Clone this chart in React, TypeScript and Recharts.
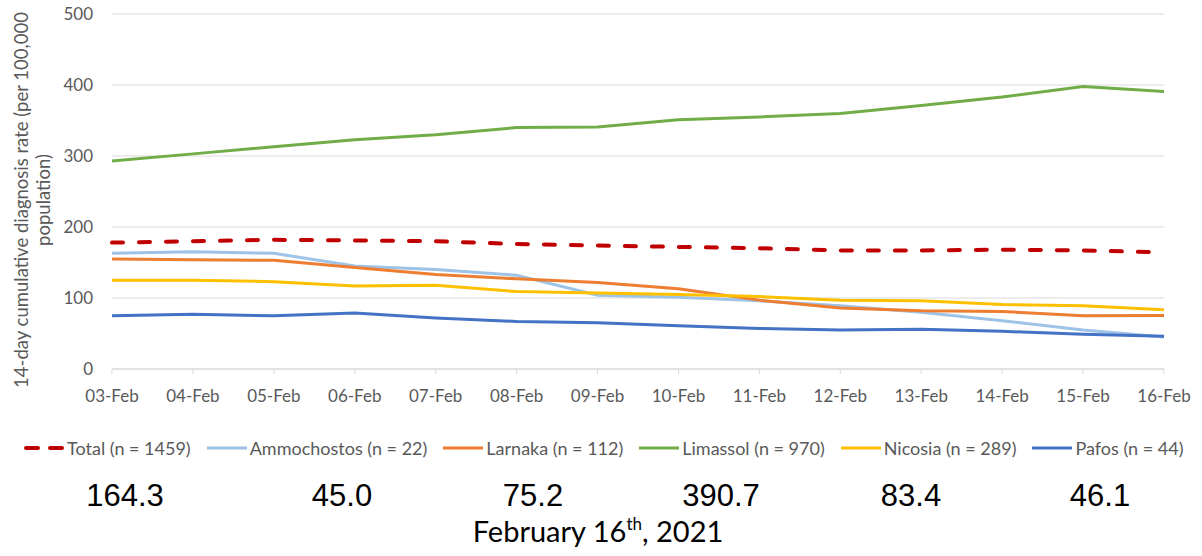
import React from "react";
import {
  CartesianGrid,
  Legend,
  Line,
  LineChart,
  XAxis,
  YAxis,
} from "recharts";

// values (14-day rate per 100,000)
const dates = [
  "03-Feb", "04-Feb", "05-Feb", "06-Feb", "07-Feb", "08-Feb", "09-Feb",
  "10-Feb", "11-Feb", "12-Feb", "13-Feb", "14-Feb", "15-Feb", "16-Feb",
];
const total = [178, 180, 182, 181, 180, 176, 174, 172, 170, 167, 167, 168, 167, 164.3];
const ammochostos = [163, 165, 163, 145, 140, 132, 104, 101, 96, 89, 80, 68, 55, 45.0];
const larnaka = [155, 154, 153, 143, 133, 127, 122, 113, 97, 86, 82, 81, 75, 75.2];
const limassol = [293, 303, 313, 323, 330, 340, 341, 351, 355, 360, 371, 383, 398, 390.7];
const nicosia = [125, 125, 123, 117, 118, 109, 107, 105, 102, 97, 96, 91, 89, 83.4];
const pafos = [75, 77, 75, 79, 72, 67, 65, 61, 57, 55, 56, 53, 49, 46.1];

const seriesKeys = ["total", "ammochostos", "larnaka", "limassol", "nicosia", "pafos"];
const seriesNames = [
  "Total (n = 1459)",
  "Ammochostos (n = 22)",
  "Larnaka (n = 112)",
  "Limassol (n = 970)",
  "Nicosia (n = 289)",
  "Pafos (n = 44)",
];
const seriesColors = ["#C00000", "#9DC3E6", "#ED7D31", "#70AD47", "#FFC000", "#4472C4"];
const yTicks = [0, 100, 200, 300, 400, 500];

// latest values printed under the chart
const summaryValues = ["164.3", "45.0", "75.2", "390.7", "83.4", "46.1"];
const summaryCenters = [125, 342, 533, 721, 911, 1100];

const seriesValues = [total, ammochostos, larnaka, limassol, nicosia, pafos];
const data = dates.map((date, i) => {
  const row: Record<string, string | number> = { date };
  seriesKeys.forEach((k, s) => {
    row[k] = seriesValues[s][i];
  });
  return row;
});

const CALIBRI = "Lato, 'Open Sans', sans-serif";
const GREY = "#595959";

const YLabel = () => (
  <g fill={GREY} fontFamily={CALIBRI} fontSize={18.5}>
    <text x={21} y={200} textAnchor="middle" dominantBaseline="central" transform="rotate(-90, 21, 200)">
      14-day cumulative diagnosis rate (per 100,000
    </text>
    <text x={43} y={200} textAnchor="middle" dominantBaseline="central" transform="rotate(-90, 43, 200)">
      population)
    </text>
  </g>
);

const LegendContent = () => (
  <div
    style={{
      height: 61,
      boxSizing: "border-box",
      paddingTop: 16,
      paddingLeft: 24,
      display: "flex",
      alignItems: "center",
      fontFamily: CALIBRI,
      fontSize: 18,
      color: GREY,
      lineHeight: "20px",
      whiteSpace: "nowrap",
    }}
  >
    {seriesNames.map((name, i) => (
      <div key={name} style={{ display: "flex", alignItems: "center", marginRight: 16 }}>
        <svg width={40} height={10} style={{ marginRight: 3 }}>
          {i === 0 ? (
            <line x1={2} y1={5} x2={39} y2={5} stroke={seriesColors[i]} strokeWidth={4}
              strokeDasharray="12 12" strokeLinecap="round" />
          ) : (
            <line x1={0} y1={5} x2={40} y2={5} stroke={seriesColors[i]} strokeWidth={3} />
          )}
        </svg>
        <span>{name}</span>
      </div>
    ))}
  </div>
);

export default function App() {
  return (
    <div style={{ position: "absolute", left: 0, top: 0, width: 1202, height: 556, background: "#fff" }}>
      <LineChart width={1202} height={470} data={data} margin={{ top: 14, right: 38, bottom: 0, left: 0 }}>
        <CartesianGrid vertical={false} stroke="#d9d9d9" strokeWidth={1} />
        <XAxis
          dataKey="date"
          height={40}
          interval={0}
          stroke="#d9d9d9"
          tickSize={5}
          tickMargin={16}
          tick={{ fill: GREY, fontSize: 17, fontFamily: CALIBRI }}
        />
        <YAxis
          width={112}
          domain={[0, 500]}
          ticks={yTicks}
          axisLine={false}
          tickLine={false}
          tickSize={0}
          tickMargin={19}
          tick={{ fill: GREY, fontSize: 17, fontFamily: CALIBRI }}
          label={{ content: <YLabel /> }}
        />
        <Legend verticalAlign="bottom" content={<LegendContent />} wrapperStyle={{ left: 0, width: 1202 }} />
        {seriesKeys.map((k, i) => (
          <Line
            key={k}
            dataKey={k}
            name={seriesNames[i]}
            stroke={seriesColors[i]}
            strokeWidth={i === 0 ? 4 : 3}
            strokeDasharray={i === 0 ? "11 16" : undefined}
            strokeLinecap={i === 0 ? "round" : "butt"}
            type="linear"
            dot={false}
            activeDot={false}
            isAnimationActive={false}
          />
        ))}
      </LineChart>
      {summaryValues.map((v, i) => (
        <div
          key={i}
          style={{
            position: "absolute",
            left: summaryCenters[i] - 60,
            width: 120,
            top: 478,
            textAlign: "center",
            fontFamily: "'Liberation Sans', Arial, sans-serif",
            fontSize: 31,
            lineHeight: "36px",
            color: "#000",
          }}
        >
          {v}
        </div>
      ))}
      <div
        style={{
          position: "absolute",
          left: 0,
          width: 1196,
          top: 514,
          textAlign: "center",
          fontFamily: CALIBRI,
          fontSize: 29,
          lineHeight: "34px",
          color: "#000",
        }}
      >
        February 16<sup style={{ fontSize: 17, verticalAlign: "top", lineHeight: "20px" }}>th</sup>, 2021
      </div>
    </div>
  );
}
